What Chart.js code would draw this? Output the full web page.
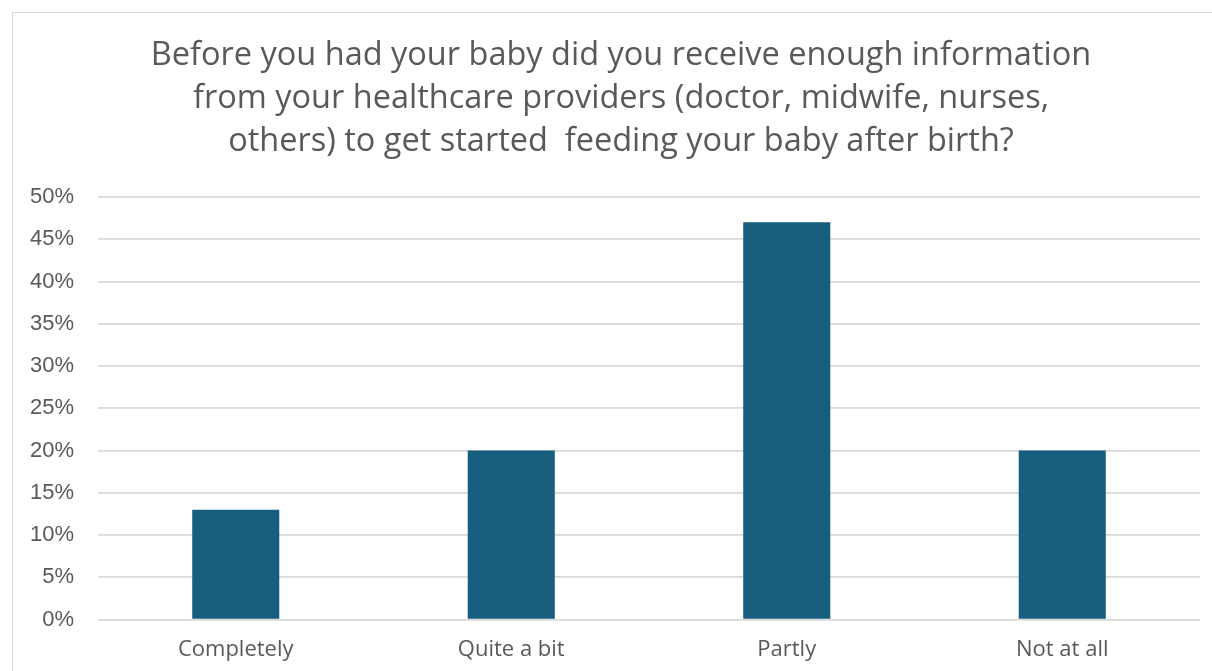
<!DOCTYPE html>
<html>
<head>
<meta charset="utf-8">
<script src="https://cdn.jsdelivr.net/npm/chart.js@4.4.1/dist/chart.umd.min.js"></script>
<style>
  html, body { margin: 0; padding: 0; background: #ffffff; overflow: hidden; }
  body { width: 1212px; height: 671px; position: relative; }
  #frame {
    position: absolute; left: 12px; top: 12px;
    width: 1216px; height: 700px;
    border: 1px solid #d9d9d9; box-sizing: border-box;
  }
  #wrap { position: absolute; left: 1px; top: 1px; width: 1214px; height: 676px; }
</style>
</head>
<body>
<div id="frame"><div id="wrap"><canvas id="chart"></canvas></div></div>
<script>
const titleLines = [
  'Before you had your baby did you receive enough information',
  'from your healthcare providers (doctor, midwife, nurses,',
  'others) to get started  feeding your baby after birth?'
];
const categories = ['Completely', 'Quite a bit', 'Partly', 'Not at all'];
const shares = [13, 20, 47, 20];
const yTicks = [0, 5, 10, 15, 20, 25, 30, 35, 40, 45, 50];

const fontFamily = '"Open Sans", "Liberation Sans", sans-serif';
const tickFamily = '"Liberation Sans", Arial, sans-serif';
const textColor = '#595959';

new Chart(document.getElementById('chart'), {
  type: 'bar',
  data: {
    labels: categories,
    datasets: [{
      data: shares,
      backgroundColor: '#175e7e',
      borderWidth: 0,
      categoryPercentage: 1,
      barPercentage: 0.316
    }]
  },
  options: {
    responsive: true,
    maintainAspectRatio: false,
    animation: false,
    layout: { padding: { left: 0, right: 0, top: 0, bottom: 10 } },
    plugins: {
      legend: { display: false },
      tooltip: { enabled: false },
      title: {
        display: true,
        text: titleLines,
        color: textColor,
        font: { family: fontFamily, size: 32.5, weight: 'normal', lineHeight: '43px' },
        padding: { top: 20, bottom: 34 }
      }
    },
    scales: {
      x: {
        grid: { display: false, drawTicks: false },
        border: { display: false },
        ticks: {
          color: textColor,
          font: { family: fontFamily, size: 22 },
          padding: 17
        }
      },
      y: {
        min: 0,
        max: 50,
        afterFit(scale) { scale.width = 84; },
        afterBuildTicks(scale) { scale.ticks = yTicks.map(v => ({ value: v })); },
        grid: { color: '#d9d9d9', lineWidth: 1.8, drawTicks: false },
        border: { display: false },
        ticks: {
          color: textColor,
          font: { family: tickFamily, size: 22 },
          padding: 24,
          callback: v => v + '%'
        }
      },
      // empty right-hand margin so the plot ends short of the frame
      yRight: {
        position: 'right',
        min: 0,
        max: 50,
        afterFit(scale) { scale.width = 28; },
        grid: { display: false, drawTicks: false },
        border: { display: false },
        ticks: { display: false }
      }
    }
  }
});
</script>
</body>
</html>
